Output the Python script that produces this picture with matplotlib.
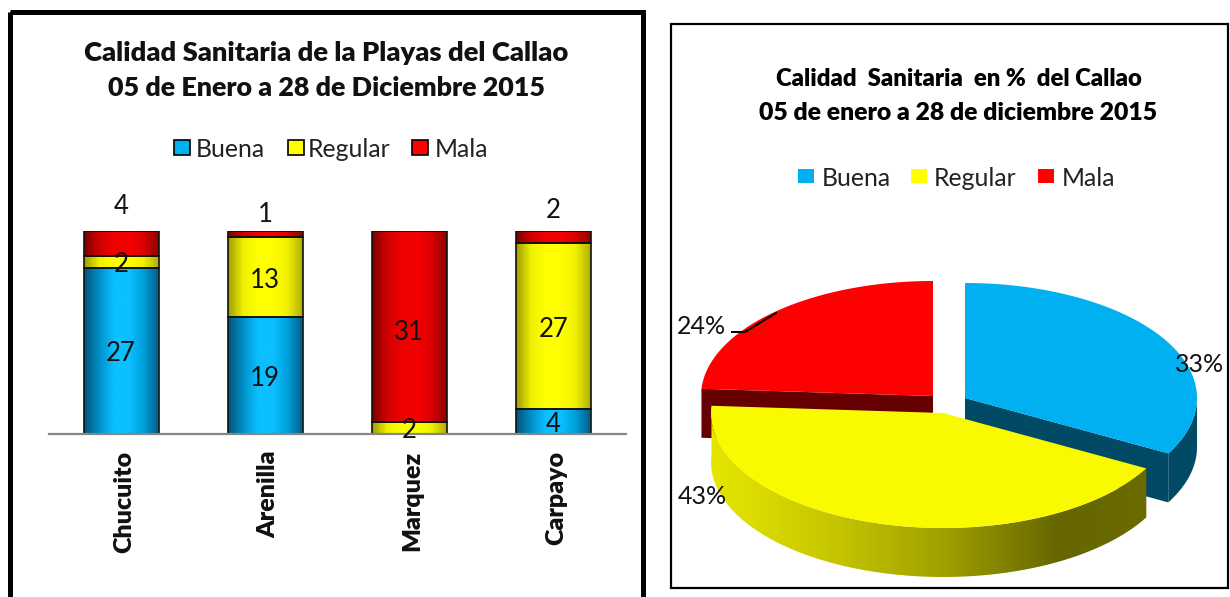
import matplotlib
matplotlib.use("Agg")
import matplotlib.pyplot as plt
import numpy as np
from matplotlib.colors import LinearSegmentedColormap
from matplotlib.patches import Polygon, Rectangle
from matplotlib.transforms import Affine2D

beaches = ["Chucuito", "Arenilla", "Marquez", "Carpayo"]
buena = [27, 19, 0, 4]
regular = [2, 13, 2, 27]
mala = [4, 1, 31, 2]

pie_labels = ["Buena", "Regular", "Mala"]
pie_values = [33, 43, 24]

plt.rcParams["font.family"] = ["Lato", "DejaVu Sans"]

BLUE = "#00b0f0"
YELLOW = "#ffff00"
RED = "#ff0000"

grad_blue = LinearSegmentedColormap.from_list("b", ["#00577a", "#0090c8", "#0cc0ff", "#0cc0ff", "#00a0dc", "#005f85"])
grad_yellow = LinearSegmentedColormap.from_list("y", ["#a0a000", "#f0f000", "#ffff00", "#ffff00", "#f0f000", "#b0b000"])
grad_red = LinearSegmentedColormap.from_list("r", ["#800000", "#d00000", "#f00000", "#f40000", "#dc0000", "#900000"])
grad_side = LinearSegmentedColormap.from_list("s", ["#e6e600", "#c8c800", "#a0a000", "#666600", "#6c6c00"])

fig = plt.figure(figsize=(12.3, 5.97), dpi=100)

# full figure overlay in pixels, y going down
page = fig.add_axes([0, 0, 1, 1])
page.set_xlim(0, 1230)
page.set_ylim(597, 0)
page.axis("off")
page.add_patch(Rectangle((10, 12), 633, 600, fill=False, ec="black", lw=3.6, clip_on=True))
page.add_patch(Rectangle((671, 24), 557, 564, fill=False, ec="black", lw=1.6))

# stacked bars
ax = fig.add_axes([49 / 1230, (597 - 434) / 597, 576.5 / 1230, 203 / 597])
ax.patch.set_alpha(0)
x = np.arange(len(beaches))
b1 = np.array(buena)
b2 = np.array(regular)
b3 = np.array(mala)
for vals, base, cmap in [(b1, 0 * b1, grad_blue), (b2, b1, grad_yellow), (b3, b1 + b2, grad_red)]:
    bars = ax.bar(x, vals, 0.52, bottom=base, color="none", edgecolor="#101010", linewidth=1.2, zorder=3)
    for bar in bars:
        if bar.get_height() == 0:
            continue
        im = ax.imshow(np.linspace(0, 1, 64).reshape(1, -1), cmap=cmap, aspect="auto", zorder=2,
                       extent=(bar.get_x(), bar.get_x() + bar.get_width(), bar.get_y(), bar.get_y() + bar.get_height()))
        im.set_clip_path(bar)
ax.set_xlim(-0.5, 3.5)
ax.set_ylim(0, (b1 + b2 + b3).max())
ax.set_yticks([])
for s in ["top", "left", "right"]:
    ax.spines[s].set_visible(False)
ax.spines["bottom"].set_color("#868686")
ax.spines["bottom"].set_linewidth(1.6)
ax.spines["bottom"].set_zorder(4)
ax.set_xticks(x)
ax.set_xticklabels(beaches, rotation=90, fontweight="heavy", fontsize=18, color="#111111", va="top", ha="center")
ax.tick_params(axis="x", length=0, pad=12)
for lbl in ax.get_xticklabels():
    lbl.set_transform(lbl.get_transform() + Affine2D().translate(3, 0))

for i in x:
    if b1[i]:
        ax.annotate(str(b1[i]), (i, b1[i] / 2), xytext=(0, -3), textcoords="offset pixels",
                    ha="center", va="center", fontsize=18.5, color="#111111", zorder=5)
    ax.annotate(str(b2[i]), (i, b1[i] + b2[i] / 2), xytext=(0, -3), textcoords="offset pixels",
                ha="center", va="center", fontsize=18.5, color="#111111", zorder=5)
mala_off = [25, 16, -6, 20]
for i in x:
    y_lab = b1[i] + b2[i] + (b3[i] if mala_off[i] > 0 else b3[i] / 2)
    ax.annotate(str(b3[i]), (i, y_lab), xytext=(0, mala_off[i]), textcoords="offset pixels",
                ha="center", va="center", fontsize=18.5, color="#111111", zorder=5)

page.text(326, 53, "Calidad Sanitaria de la Playas del Callao", ha="center", va="center",
          fontsize=19.7, fontweight="heavy", color="#111111")
page.text(326, 88, "05 de Enero a 28 de Diciembre 2015", ha="center", va="center",
          fontsize=19.4, fontweight="heavy", color="#111111")
page.text(959, 79, "Calidad  Sanitaria  en %  del Callao", ha="center", va="center",
          fontsize=17.2, fontweight="heavy", color="black")
page.text(958, 113, "05 de enero a 28 de diciembre 2015", ha="center", va="center",
          fontsize=17.8, fontweight="heavy", color="black")

# legends
leg_left = [(174, "Buena", BLUE, 196), (288, "Regular", YELLOW, 308), (412, "Mala", RED, 435)]
for sx, name, col, tx in leg_left:
    page.add_patch(Rectangle((sx, 140), 16, 15, fc=col, ec="black", lw=1.2))
    page.text(tx, 149.5, name, ha="left", va="center", fontsize=17.8, color="#222222")
leg_right = [(798, "Buena", BLUE, 822), (911, "Regular", YELLOW, 934), (1038, "Mala", RED, 1062)]
for sx, name, col, tx in leg_right:
    page.add_patch(Rectangle((sx, 169), 16, 14, fc=col, ec="none"))
    page.text(tx, 178, name, ha="left", va="center", fontsize=17.8, color="#222222")

# pie drawn by hand since matplotlib has no 3d pie
RX, RY, DEPTH = 232, 115, 49
fracs = np.array(pie_values) / sum(pie_values)
ends = np.cumsum(fracs) * 2 * np.pi
starts = ends - fracs * 2 * np.pi
centres = [(965, 398), (943, 413), (933, 396)]


def arc(c, a0, a1, n=80):
    t = np.linspace(a0, a1, n)
    return np.column_stack([c[0] + RX * np.sin(t), c[1] - RY * np.cos(t)])


def extrude(pts):
    return np.vstack([pts, (pts + [0, DEPTH])[::-1]])


# red cut face
c = np.array(centres[2])
page.add_patch(Polygon(extrude(np.vstack([arc(c, starts[2], starts[2], 1), c])), fc="#660000", ec="none", zorder=2))
page.add_patch(Polygon(np.vstack([c, arc(c, starts[2], ends[2])]), fc=RED, ec="none", zorder=3))

# blue rim and cut face
c = np.array(centres[0])
page.add_patch(Polygon(extrude(arc(c, np.pi / 2, ends[0], 30)), fc="#004a66", ec="none", zorder=2))
page.add_patch(Polygon(extrude(np.vstack([c, arc(c, ends[0], ends[0], 1)])), fc="#004a66", ec="none", zorder=2))
page.add_patch(Polygon(np.vstack([c, arc(c, starts[0], ends[0])]), fc=BLUE, ec="none", zorder=3))

# yellow rim with gradient, then top
c = np.array(centres[1])
rim = Polygon(extrude(arc(c, starts[1], ends[1])), fc="none", ec="none", zorder=4, transform=page.transData)
page.add_patch(rim)
im = page.imshow(np.linspace(0, 1, 256).reshape(1, -1), cmap=grad_side, aspect="auto", zorder=4,
                 extent=(c[0] - RX, c[0] + RX, 597, 0))
im.set_clip_path(rim)
page.set_xlim(0, 1230)
page.set_ylim(597, 0)
page.add_patch(Polygon(np.vstack([c, arc(c, starts[1], ends[1])]), fc="#f9f900", ec="none", zorder=5))

# pie labels
page.text(701, 327, "24%", ha="center", va="center", fontsize=18, color="#111111", zorder=6)
page.plot([732, 745, 776], [332, 332, 313], color="black", lw=1.4, zorder=6)
page.text(1200, 365, "33%", ha="center", va="center", fontsize=18, color="#111111", zorder=6)
page.text(702, 496, "43%", ha="center", va="center", fontsize=18, color="#111111", zorder=6)

fig.savefig("out.png", dpi=100)
